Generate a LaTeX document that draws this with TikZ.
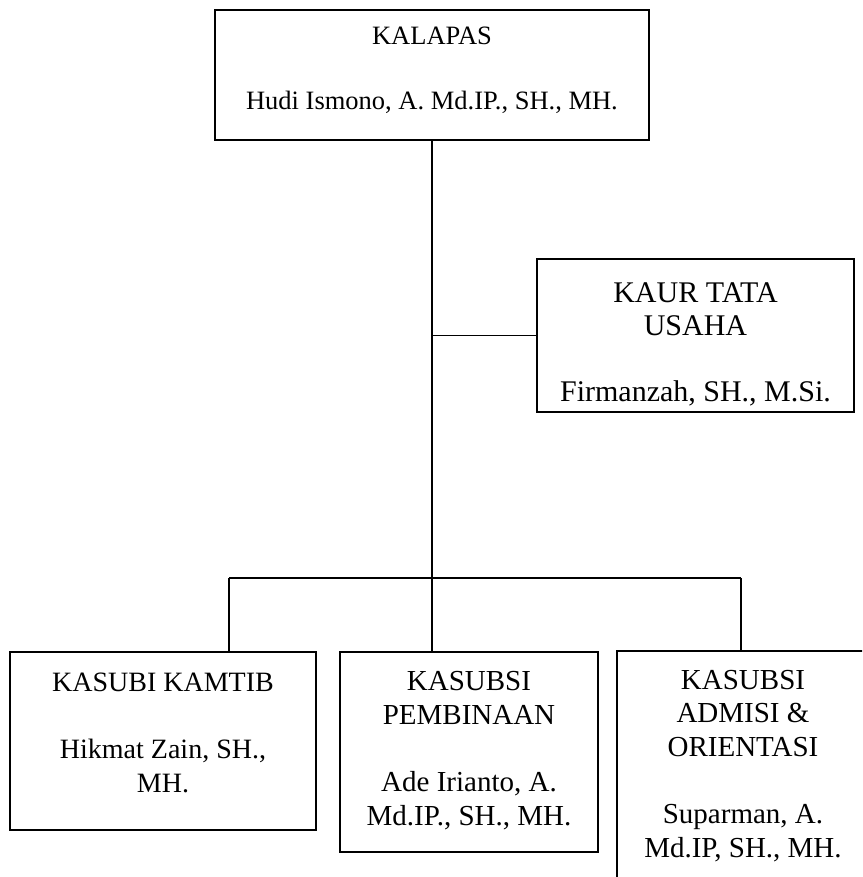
\documentclass[tikz,border=0pt]{standalone}
\usepackage{fontspec}
\setmainfont{Liberation Serif}
\begin{document}
\begin{tikzpicture}[x=1pt,y=-1pt,
  box/.style={draw, line width=1.3pt, inner sep=0pt},
  txt/.style={align=center, inner sep=0pt, anchor=base},
  link/.style={line width=1.3pt}]
\clip (0,0) rectangle (862,877);
% boxes
\node[box, minimum width=434pt, minimum height=130pt] (kalapas) at (432,75) {};
\node[box, minimum width=317pt, minimum height=153pt] (kaur) at (695.5,335.5) {};
\node[box, minimum width=306pt, minimum height=178pt] (kamtib) at (163,741) {};
\node[box, minimum width=258pt, minimum height=200pt] (pembinaan) at (469,752) {};
\node[box, minimum width=252pt, minimum height=269pt] (admisi) at (743,785.5) {};
% texts (anchored at the baseline of their last line)
\node[txt, font=\fontsize{26.5}{33}\selectfont] (kalapasT) at (432,110) {KALAPAS\\[32pt]Hudi Ismono, A. Md.IP., SH., MH.};
\node[txt, font=\fontsize{30}{33}\selectfont] (kaurT) at (695.5,401) {KAUR TATA\\USAHA\\[33pt]Firmanzah, SH., M.Si.};
\node[txt, font=\fontsize{28}{34}\selectfont] (kamtibT) at (163,792) {KASUBI KAMTIB\\[33pt]Hikmat Zain, SH.,\\MH.};
\node[txt, font=\fontsize{29}{34}\selectfont] (pembinaanT) at (469,825) {KASUBSI\\PEMBINAAN\\[33pt]Ade Irianto, A.\\Md.IP., SH., MH.};
\node[txt, font=\fontsize{29}{33.5}\selectfont] (admisiT) at (743,857) {KASUBSI\\ADMISI \&\\ORIENTASI\\[34pt]Suparman, A.\\Md.IP, SH., MH.};
% connectors
\coordinate (busL) at (229,578);
\coordinate (busR) at (741,578);
\draw[link] (kalapas.south) -- (kalapas.south |- pembinaan.north);
\draw[link] (kaur.west) -- (kaur.west -| kalapas.south);
\draw[link] (busL) -- (busR);
\draw[link] (busL) -- (busL |- kamtib.north);
\draw[link] (busR) -- (busR |- admisi.north);
\end{tikzpicture}
\end{document}
